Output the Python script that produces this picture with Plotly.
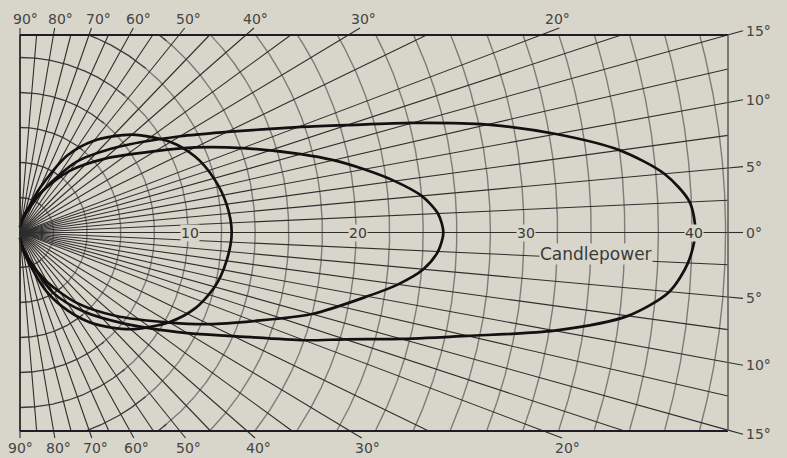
import numpy as np
import plotly.graph_objects as go

# ---------------- data ----------------
# polar candlepower curves: angle (deg above/below axis) -> candlepower
small_angle = [-90, -80, -72.5, -65, -57.5, -50, -40, -30, -22.5, -15, -7.5, 0,
               7.5, 15, 22.5, 30, 40, 50, 57.5, 65, 72.5, 80, 90]
small_cp = [0.3, 1.0, 1.9, 3.7, 5.3, 6.8, 8.6, 10.25, 11.3, 12.0, 12.4, 12.6,
            12.4, 11.95, 11.3, 10.35, 8.7, 6.85, 5.2, 2.8, 1.2, 0.7, 0.3]

medium_angle = [-90, -80, -70, -60, -50, -40, -30, -25, -20, -15, -10, -7.5, -5, -2.5, 0,
                2.5, 5, 7.5, 10, 12.5, 15, 20, 25, 30, 40, 50, 60, 70, 80, 90]
medium_cp = [0.3, 0.9, 1.8, 3.3, 5.25, 7.4, 10.3, 12.4, 14.8, 18.0, 21.0, 22.7, 24.1, 24.9, 25.2,
             24.9, 24.0, 22.5, 20.8, 19.1, 17.3, 14.1, 11.5, 9.3, 6.55, 4.6, 2.8, 1.5, 0.8, 0.3]

large_angle = [-90, -80, -70, -60, -50, -40, -30, -25, -20, -17.5, -15, -12.5, -10, -7.5, -5, -2.5, 0,
               2.5, 5, 7.5, 10, 12.5, 15, 17.5, 20, 25, 30, 40, 50, 60, 70, 80, 90]
large_cp = [0.3, 0.8, 1.7, 4.0, 5.9, 8.1, 11.5, 14.0, 18.0, 20.3, 23.5, 27.3, 32.3, 36.5, 38.8, 39.8, 40.2,
            39.9, 38.5, 36.0, 32.4, 28.5, 24.2, 20.4, 17.6, 13.6, 11.0, 7.6, 5.3, 2.8, 1.3, 0.7, 0.3]

# grid
ray_angles = ([-90, -85, -80, -75, -70, -65, -60, -55, -50, -45, -40, -35, -30, -25]
              + [-20, -17.5, -15, -12.5, -10, -7.5, -5, -2.5, 0, 2.5, 5, 7.5, 10, 12.5, 15, 17.5, 20]
              + [25, 30, 35, 40, 45, 50, 55, 60, 65, 70, 75, 80, 85, 90])
circle_cp = [2, 4, 6, 8, 10, 12, 14, 16, 18, 20, 22, 24, 26, 28, 30, 32, 34, 36, 38, 40, 42]

side_label_angles = [15, 10, 5, 0, -5, -10, -15]
side_labels = ["15°", "10°", "5°", "0°", "5°", "10°", "15°"]

edge_label_angles = [90, 80, 70, 60, 50, 40, 30, 20]
edge_labels = ["90°", "80°", "70°", "60°", "50°", "40°", "30°", "20°"]
top_label_px = [25, 60, 98, 138, 188, 255, 363, 557]
bottom_label_px = [20, 58, 95, 136, 188, 258, 367, 567]

axis_numbers = [10, 20, 30, 40]

# ---------------- geometry / style ----------------
W, H = 787, 458
OX, OY = 20.0, 232.5       # origin in pixels
SX, SY = 16.8, 17.5        # pixels per candlepower unit


def px2x(px):
    return (px - OX) / SX


def py2y(py):
    return (OY - py) / SY


X0, X1 = 0.0, px2x(728)
Y1, Y0 = py2y(35), py2y(431)

PAPER = "#d8d5ca"
RAY = "#2e2e2e"
ARC = "#7c7c78"
ARC_DARK = "#3a3a3a"
INK = "#111111"

fig = go.Figure()


def ray_end(deg):
    t = np.radians(deg)
    c, s = np.cos(t), np.sin(t)
    tx = X1 / c if c > 1e-9 else np.inf
    if s > 1e-12:
        ty = Y1 / s
    elif s < -1e-12:
        ty = Y0 / s
    else:
        ty = np.inf
    L = min(tx, ty)
    return L * c, L * s


# concentric arcs, clipped to the frame
gx, gy, dx, dy = [], [], [], []
th = np.radians(np.linspace(-90, 90, 1441))
for r in circle_cp:
    x = r * np.cos(th)
    y = r * np.sin(th)
    inside = (x <= X1 + 1e-9) & (y <= Y1) & (y >= Y0)
    deg = np.degrees(th)
    dark = np.abs(deg) >= 51.5
    gray = np.abs(deg) <= 52.5
    for mask, ax_, ay_ in ((gray, gx, gy), (dark, dx, dy)):
        m = inside & mask
        xx = np.where(m, x, np.nan)
        yy = np.where(m, y, np.nan)
        ax_.extend(xx.tolist() + [None])
        ay_.extend(yy.tolist() + [None])

fig.add_trace(go.Scatter(x=gx, y=gy, mode="lines", line=dict(color=ARC, width=1.4),
                         hoverinfo="skip", connectgaps=False))
fig.add_trace(go.Scatter(x=dx, y=dy, mode="lines", line=dict(color=ARC_DARK, width=1.3),
                         hoverinfo="skip", connectgaps=False))

# radial lines
rx, ry = [], []
for a in ray_angles:
    ex, ey = ray_end(a)
    rx += [0, ex, None]
    ry += [0, ey, None]
# extensions to the side labels
for a in side_label_angles:
    ex, ey = ray_end(a)
    t = np.radians(a)
    xe = px2x(743)
    rx += [ex, xe, None]
    ry += [ey, xe * np.tan(t), None]
# extensions to the top/bottom labels
for a in edge_label_angles:
    for sgn, ypx in ((1, 28), (-1, 438)):
        ex, ey = ray_end(sgn * a)
        ye = py2y(ypx)
        t = np.radians(a)
        xe = abs(ye) / np.tan(t) if a < 90 else 0.0
        rx += [ex, xe, None]
        ry += [ey, ye, None]
fig.add_trace(go.Scatter(x=rx, y=ry, mode="lines", line=dict(color=RAY, width=1.1),
                         hoverinfo="skip"))

# candlepower curves
for ang, cp in ((small_angle, small_cp), (medium_angle, medium_cp), (large_angle, large_cp)):
    t = np.radians(np.array(ang, dtype=float))
    r = np.array(cp, dtype=float)
    fig.add_trace(go.Scatter(x=r * np.cos(t), y=r * np.sin(t), mode="lines",
                             line=dict(color=INK, width=2.7, shape="spline", smoothing=0.8),
                             hoverinfo="skip"))

# frame
shapes = [
    dict(type="line", x0=X0, x1=X1, y0=Y1, y1=Y1, line=dict(color="#1b1e28", width=2.2)),
    dict(type="line", x0=X0, x1=X1, y0=Y0, y1=Y0, line=dict(color="#1b1e28", width=2.2)),
    dict(type="line", x0=X0, x1=X0, y0=Y0, y1=Y1, line=dict(color="#2a2a2a", width=1.6)),
    dict(type="line", x0=X1, x1=X1, y0=Y0, y1=Y1, line=dict(color="#5a5a5a", width=1.5)),
]

ann = []
FONT = "DejaVu Sans"
for a, lab in zip(side_label_angles, side_labels):
    xe = px2x(743)
    ann.append(dict(x=xe, y=xe * np.tan(np.radians(a)), text=lab, showarrow=False,
                    xanchor="left", yanchor="middle", xshift=1,
                    font=dict(family=FONT, size=14, color="#444444")))
for lab, xp in zip(edge_labels, top_label_px):
    ann.append(dict(x=px2x(xp), y=py2y(19), text=lab, showarrow=False,
                    xanchor="center", yanchor="middle",
                    font=dict(family=FONT, size=14, color="#444444")))
for lab, xp in zip(edge_labels, bottom_label_px):
    ann.append(dict(x=px2x(xp), y=py2y(448), text=lab, showarrow=False,
                    xanchor="center", yanchor="middle",
                    font=dict(family=FONT, size=14, color="#444444")))
for n in axis_numbers:
    ann.append(dict(x=n + 0.1, y=0, text=str(n), showarrow=False, xanchor="center",
                    yanchor="middle", bgcolor=PAPER, borderpad=0,
                    font=dict(family=FONT, size=14, color="#3a3a3a")))
ann.append(dict(x=px2x(596), y=py2y(254), text="Candlepower", showarrow=False,
                xanchor="center", yanchor="middle", bgcolor=PAPER, borderpad=0,
                font=dict(family=FONT, size=17, color="#3a3a3a")))

fig.update_layout(
    width=W, height=H,
    margin=dict(l=0, r=0, t=0, b=0, pad=0),
    paper_bgcolor=PAPER, plot_bgcolor=PAPER,
    showlegend=False,
    xaxis=dict(range=[px2x(0), px2x(W)], visible=False, fixedrange=True),
    yaxis=dict(range=[py2y(H), py2y(0)], visible=False, fixedrange=True),
    shapes=shapes, annotations=ann,
)

fig.write_html(
    "out.html",
    config={"displayModeBar": False},
    post_script=("document.body.style.margin='0';document.body.style.padding='0';"
                 "document.body.style.overflow='hidden';"
                 "document.body.style.background='" + PAPER + "';"),
)
